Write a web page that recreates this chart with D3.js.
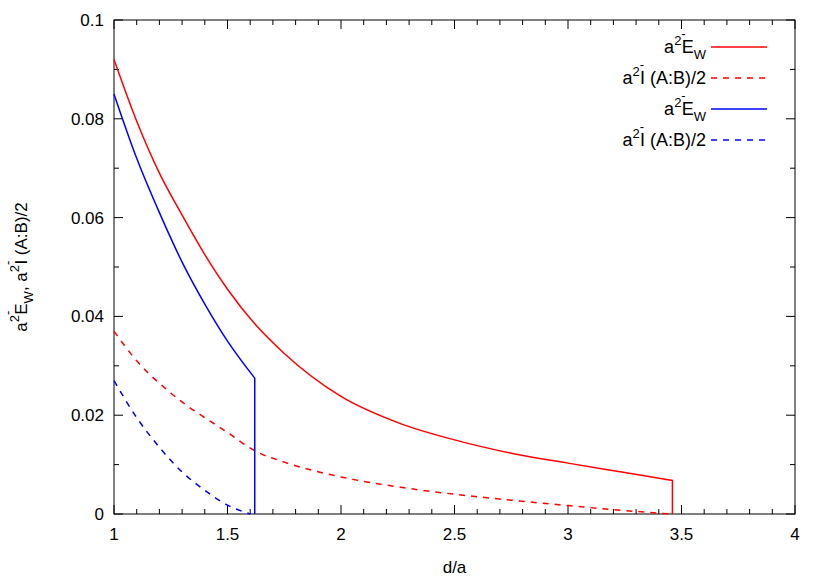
<!DOCTYPE html>
<html><head><meta charset="utf-8">
<script src="https://cdn.jsdelivr.net/npm/d3@7"></script>
<style>body{margin:0;background:#fff}text{font-family:"Liberation Sans",Arial,sans-serif;fill:#000}</style>
</head><body><svg id="c" width="830" height="581"></svg>
<script>
// values
const redSolid = [[1,0.092],[1.1,0.0795],[1.2,0.069],[1.3,0.0605],[1.4,0.0525],[1.5,0.0455],[1.62,0.0385],[1.75,0.0325],[2,0.0238],[2.25,0.0185],[2.5,0.015],[2.75,0.0123],[3,0.0103],[3.25,0.0084],[3.46,0.0068]];
const redDash = [[1,0.037],[1.1,0.031],[1.25,0.0245],[1.5,0.0165],[1.62,0.0128],[1.75,0.0105],[2,0.0075],[2.25,0.0055],[2.5,0.004],[2.75,0.0028],[3,0.0017],[3.25,0.0007],[3.45,0]];
const blueSolid = [[1,0.085],[1.1,0.072],[1.2,0.061],[1.3,0.051],[1.4,0.0425],[1.5,0.035],[1.62,0.0275]];
const blueDash = [[1,0.027],[1.1,0.0195],[1.2,0.0135],[1.3,0.0085],[1.4,0.0048],[1.5,0.0018],[1.6,0]];
const xTicks = [1,1.5,2,2.5,3,3.5,4];
const yTicks = [0,0.02,0.04,0.06,0.08,0.1];

const svg = d3.select('#c');
const L=114,R=795,T=20,B=514;
const x = d3.scaleLinear().domain([1,4]).range([L,R]);
const y = d3.scaleLinear().domain([0,0.1]).range([B,T]);
const g = svg.append('g');

// minor + major ticks, mirrored
const xm = d3.range(1,4.001,0.1), ym = d3.range(0,0.1001,0.01);
xm.forEach(v=>{const len = xTicks.some(t=>Math.abs(t-v)<1e-6)?9:5;
  g.append('line').attr('x1',x(v)).attr('x2',x(v)).attr('y1',B).attr('y2',B-len).attr('stroke','#000');
  g.append('line').attr('x1',x(v)).attr('x2',x(v)).attr('y1',T).attr('y2',T+len).attr('stroke','#000');});
ym.forEach(v=>{const len = yTicks.some(t=>Math.abs(t-v)<1e-6)?9:5;
  g.append('line').attr('y1',y(v)).attr('y2',y(v)).attr('x1',L).attr('x2',L+len).attr('stroke','#000');
  g.append('line').attr('y1',y(v)).attr('y2',y(v)).attr('x1',R).attr('x2',R-len).attr('stroke','#000');});
g.append('rect').attr('x',L).attr('y',T).attr('width',R-L).attr('height',B-T).attr('fill','none').attr('stroke','#000');

xTicks.forEach(v=>g.append('text').attr('x',x(v)).attr('y',B+26).attr('text-anchor','middle').attr('font-size',17).text(v));
yTicks.forEach(v=>g.append('text').attr('x',L-10).attr('y',y(v)+6).attr('text-anchor','end').attr('font-size',17).text(v));
g.append('text').attr('x',(L+R)/2).attr('y',573).attr('text-anchor','middle').attr('font-size',17).text('d/a');

const line = d3.line().x(d=>x(d[0])).y(d=>y(d[1])).curve(d3.curveMonotoneX);
function draw(data,color,dash,drop){
  const d = line(data) + (drop ? 'L'+x(data[data.length-1][0])+','+y(0) : '');
  svg.append('path').attr('d',d)
    .attr('fill','none').attr('stroke',color).attr('stroke-width',1.5).attr('stroke-dasharray',dash?'6,6':null);
}
draw(redSolid,'#f00',false,true);
draw(redDash,'#f00',true,false);
draw(blueSolid,'#00f',false,true);
draw(blueDash,'#00f',true,false);

// gnuplot-style labels: a^2 with overprinted bar
function head(t){
  t.append('tspan').text('a');
  t.append('tspan').attr('dy',-8).attr('font-size',13).text('2');
  t.append('tspan').attr('dy',-7).attr('font-size',13).text('-');
}
function eLabel(t){
  head(t);
  t.append('tspan').attr('dy',15).attr('dx',-4).text('E');
  t.append('tspan').attr('dy',6).attr('font-size',13).text('W');
}
function iLabel(t){
  head(t);
  t.append('tspan').attr('dy',15).attr('dx',-4).text('I (A:B)/2');
}
const leg = [['#f00',false,eLabel],['#f00',true,iLabel],['#00f',false,eLabel],['#00f',true,iLabel]];
leg.forEach((d,i)=>{
  const yy = 47+i*31;
  d[2](svg.append('text').attr('x',706).attr('y',yy+6).attr('text-anchor','end').attr('font-size',18));
  svg.append('line').attr('x1',711).attr('x2',767).attr('y1',yy).attr('y2',yy).attr('stroke',d[0]).attr('stroke-width',1.5).attr('stroke-dasharray',d[1]?'6,6':null);
});
const yl = svg.append('text').attr('transform','translate(27,'+((T+B)/2)+') rotate(-90)').attr('text-anchor','middle').attr('font-size',17);
eLabel(yl);
yl.append('tspan').attr('dy',-6).text(', ');
iLabel(yl);
</script></body></html>
